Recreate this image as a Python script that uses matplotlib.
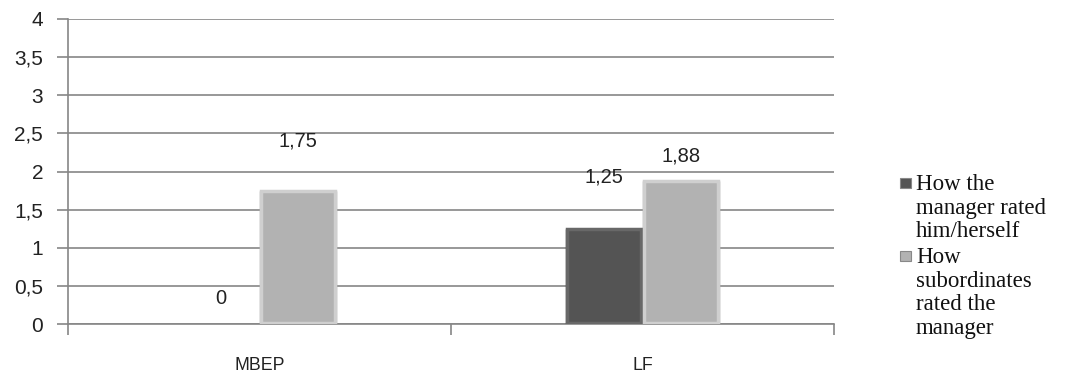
import numpy as np
import matplotlib.pyplot as plt
from matplotlib.patches import Rectangle

# datos
categorias = ['MBEP', 'LF']
gerente = [0, 1.25]
subordinados = [1.75, 1.88]
etiquetas_y = ['0', '0,5', '1', '1,5', '2', '2,5', '3', '3,5', '4']
leyenda = ['How the\nmanager rated\nhim/herself',
           'How\nsubordinates\nrated the\nmanager']

gris = '#868686'
c_oscuro = '#545454'
c_claro = '#b2b2b2'

fig = plt.figure(figsize=(10.86, 3.79), dpi=100)
ax = fig.add_axes([68 / 1086, 1 - 324 / 379, (834 - 68) / 1086, (324 - 19) / 379])

x = np.arange(len(categorias))
ancho = 0.2

def barras_bisel(xs, vals, color, borde, luz):
    bars = ax.bar(xs, vals, ancho, color=color, edgecolor='none', zorder=3)
    # bisel simple: borde claro y rectangulo interior
    for b in bars:
        h = b.get_height()
        if h <= 0:
            continue
        b.set_edgecolor(borde)
        b.set_linewidth(1.0)
        ax.add_patch(Rectangle((b.get_x() + 0.004, 0.01), ancho - 0.008, h - 0.02,
                               facecolor='none', edgecolor=luz, linewidth=2.5, zorder=4))
    return bars

b1 = barras_bisel(x - ancho / 2, gerente, c_oscuro, '#3a3a3a', '#686868')
b2 = barras_bisel(x + ancho / 2, subordinados, c_claro, '#9a9a9a', '#cfcfcf')

# etiquetas de valor (desplazamiento en pixeles, como en el original)
desp1 = [26, 52]
desp2 = [50, 25]
for xi, v, d in zip(x - ancho / 2, gerente, desp1):
    ax.annotate(f'{v:g}'.replace('.', ','), (xi, v), xytext=(0, d), textcoords='offset pixels',
                ha='center', va='center', fontsize=14.5, family='Liberation Sans', color='#222222')
for xi, v, d in zip(x + ancho / 2, subordinados, desp2):
    ax.annotate(f'{v:g}'.replace('.', ','), (xi, v), xytext=(0, d), textcoords='offset pixels',
                ha='center', va='center', fontsize=14.5, family='Liberation Sans', color='#222222')

ax.set_ylim(0, 4)
ax.set_xlim(-0.5, 1.5)
ax.set_yticks(np.arange(0, 4.01, 0.5))
ax.set_yticklabels(etiquetas_y, fontsize=15, family='Liberation Sans', color='#222222')
ax.set_xticks([-0.5, 0.5, 1.5])
ax.set_xticklabels([])
ax.set_xticks(x, minor=True)
ax.set_xticklabels(categorias, minor=True, fontsize=12.8, family='Liberation Sans', color='#222222')
ax.tick_params(axis='x', which='minor', length=0, pad=24)
ax.tick_params(axis='x', which='major', length=8, color=gris, width=1.2)
ax.tick_params(axis='y', length=8, color=gris, width=1.2, pad=10)
ax.yaxis.grid(True, color=gris, linewidth=1.2, zorder=0)
ax.set_axisbelow(True)
for s in ['top', 'right']:
    ax.spines[s].set_visible(False)
for s in ['left', 'bottom']:
    ax.spines[s].set_color(gris)
    ax.spines[s].set_linewidth(1.2)

# leyenda manual
pos_y = [183, 256]
colores = [c_oscuro, c_claro]
for py, txt, col in zip(pos_y, leyenda, colores):
    fig.patches.append(Rectangle((900 / 1086, 1 - (py + 5) / 379), 11 / 1086, 10 / 379,
                                 transform=fig.transFigure, facecolor=col,
                                 edgecolor='#888888', linewidth=0.8))
    fig.text(916 / 1086, 1 - (py - 9) / 379, txt, ha='left', va='top', fontsize=16.5,
             family='Liberation Serif', linespacing=1.17, color='#111111')

fig.savefig('out.png', dpi=100)
